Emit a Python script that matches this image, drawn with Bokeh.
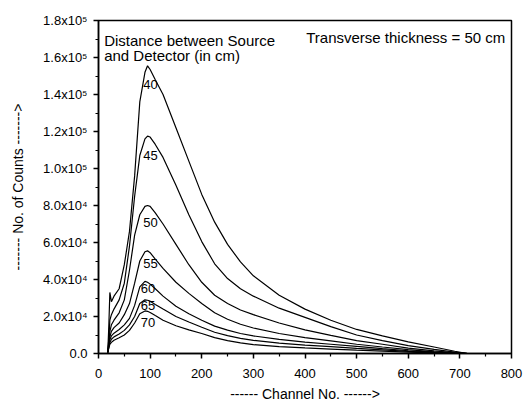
from bokeh.plotting import figure
from bokeh.models import FixedTicker, Label, ColumnDataSource, Range1d
from bokeh.core.properties import value
from bokeh.embed import file_html
from bokeh.resources import INLINE

# ---------------- data ----------------
channels = [18, 20, 22, 25, 30, 40, 50, 60, 70, 80, 90, 95, 100, 110, 125, 150, 175,
            200, 225, 250, 275, 300, 350, 400, 450, 500, 550, 600, 650, 690, 715]

counts_40 = [1000, 15000, 33000, 28000, 31000, 35000, 48000, 66000, 96000, 136000, 152000,
             155500, 153500, 148000, 140000, 122000, 104000, 86000, 71000, 59000, 49500,
             42000, 31500, 24000, 18000, 13000, 9500, 6300, 3500, 1200, 0]
counts_45 = [1000, 8000, 18000, 21000, 24000, 29000, 38000, 58000, 85000, 107000, 116000,
             117500, 117000, 113000, 106000, 91000, 75000, 60500, 48500, 40500, 35000,
             31000, 24500, 19500, 14500, 10000, 7000, 4300, 2200, 700, 0]
counts_50 = [800, 6000, 12000, 15500, 18000, 22000, 29000, 45000, 64000, 75000, 79500,
             80000, 79500, 76000, 70000, 59000, 48000, 38500, 31500, 27000, 23500,
             21000, 16500, 12800, 9800, 7000, 5000, 2900, 1400, 400, 0]
counts_55 = [600, 5000, 9000, 12000, 14000, 16500, 21000, 27000, 38000, 50000, 55000,
             55500, 54500, 51000, 46000, 38500, 32500, 27000, 22000, 18500, 15800,
             13800, 10800, 8600, 6800, 5000, 3500, 2100, 900, 300, 0]
counts_60 = [500, 4000, 7500, 9500, 11000, 13000, 15500, 19000, 26000, 36000, 39000,
             38500, 37500, 35000, 31000, 25500, 21500, 18000, 14800, 12600, 10800,
             9500, 7600, 6200, 5000, 3800, 2600, 1500, 700, 200, 0]
counts_65 = [400, 3500, 6000, 7700, 9000, 10500, 12500, 15500, 20000, 27000, 29000,
             28800, 28300, 26500, 24000, 20000, 17000, 14200, 11500, 9700, 8200,
             7100, 5600, 4500, 3700, 2800, 2000, 1100, 500, 150, 0]
counts_70 = [300, 3000, 5000, 6000, 7200, 8500, 10000, 12500, 16500, 21500, 23000,
             22800, 22200, 20500, 18000, 15000, 12800, 10800, 8600, 7000, 5700,
             4800, 3700, 3000, 2400, 1800, 1300, 700, 300, 100, 0]

distances = ["40", "45", "50", "55", "60", "65", "70"]
series = [counts_40, counts_45, counts_50, counts_55, counts_60, counts_65, counts_70]

x_ticks = [0, 100, 200, 300, 400, 500, 600, 700, 800]
y_ticks = [0, 20000, 40000, 60000, 80000, 100000, 120000, 140000, 160000, 180000]
y_tick_labels = ["0.0", "2.0x10\u2074", "4.0x10\u2074", "6.0x10\u2074", "8.0x10\u2074",
                 "1.0x10\u2075", "1.2x10\u2075", "1.4x10\u2075", "1.6x10\u2075", "1.8x10\u2075"]

title_left_1 = "Distance between Source"
title_left_2 = "and Detector (in cm)"
title_right = "Transverse thickness = 50 cm"

# ---------------- figure ----------------
FONT = "Liberation Sans"

p = figure(width=527, height=404, x_range=Range1d(0, 800), y_range=Range1d(0, 180000),
           output_backend="svg", toolbar_location=None,
           min_border_left=98, min_border_right=16, min_border_top=20, min_border_bottom=49)
p.background_fill_color = "white"
p.border_fill_color = "white"
p.xgrid.visible = False
p.ygrid.visible = False
p.outline_line_color = "black"
p.outline_line_width = 1.5
p.outline_line_alpha = 1.0

for ax in (p.xaxis[0], p.yaxis[0]):
    ax.axis_line_color = "black"
    ax.axis_line_width = 1.5
    ax.major_tick_line_color = "black"
    ax.major_tick_line_width = 1.5
    ax.minor_tick_line_color = "black"
    ax.minor_tick_line_width = 1.2
    ax.major_tick_in = 0
    ax.major_tick_out = 5
    ax.minor_tick_in = 0
    ax.minor_tick_out = 3
    ax.major_label_text_font = FONT
    ax.major_label_text_font_size = "13px"
    ax.major_label_text_color = "black"
    ax.axis_label_text_font = FONT
    ax.axis_label_text_font_size = "14px"
    ax.axis_label_text_font_style = "normal"
    ax.axis_label_text_color = "black"

p.xaxis.ticker = FixedTicker(ticks=x_ticks, minor_ticks=[t + 50 for t in x_ticks[:-1]])
p.yaxis.ticker = FixedTicker(ticks=y_ticks, minor_ticks=[t + 10000 for t in y_ticks[:-1]])
p.yaxis.major_label_overrides = {t: l for t, l in zip(y_ticks, y_tick_labels)}
p.xaxis.major_label_standoff = 10
p.yaxis.major_label_standoff = 6
p.xaxis.axis_label = "------ Channel No. ------>"
p.yaxis.axis_label = "------- No. of Counts ------->"
p.xaxis.axis_label_standoff = 5
p.yaxis.axis_label_standoff = 14

for ys in series:
    p.line(channels, ys, line_color="black", line_width=1.2)

# curve labels placed just below each peak
peak_x = []
peak_y = []
for ys in series:
    m = max(ys)
    peak_x.append(channels[ys.index(m)])
    peak_y.append(m)
label_dy = [19, 19, 17, 13, 7, 6, 12]
src = ColumnDataSource(dict(x=peak_x, y=peak_y, t=distances, dy=label_dy))
p.text(x="x", y="y", text="t", source=src, x_offset=3, y_offset="dy",
       text_align="center", text_baseline="middle", text_font_size="13px",
       text_color="black", text_font=value(FONT))

p.add_layout(Label(x=11, y=174000, text=title_left_1, text_baseline="top",
                   text_font=FONT, text_font_size="15px", text_color="black"))
p.add_layout(Label(x=11, y=165600, text=title_left_2, text_baseline="top",
                   text_font=FONT, text_font_size="15px", text_color="black"))
p.add_layout(Label(x=788, y=175200, text=title_right, text_baseline="top", text_align="right",
                   text_font=FONT, text_font_size="15px", text_color="black"))

open("out.html", "w").write(file_html(p, INLINE))
